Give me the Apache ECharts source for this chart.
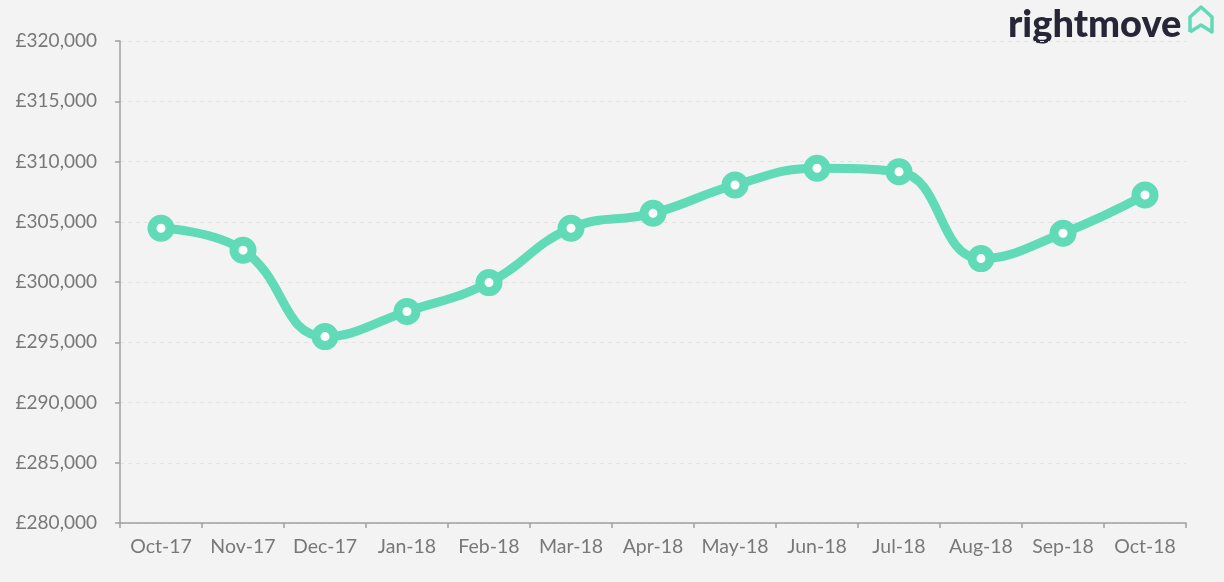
<!DOCTYPE html>
<html>
<head>
<meta charset="utf-8">
<script src="https://cdn.jsdelivr.net/npm/echarts@6/dist/echarts.min.js"></script>
<style>
html,body{margin:0;padding:0;background:#f3f3f3;}
#chart{width:1224px;height:582px;}
</style>
</head>
<body>
<div id="chart"></div>
<script>
var categories = ['Oct-17','Nov-17','Dec-17','Jan-18','Feb-18','Mar-18','Apr-18','May-18','Jun-18','Jul-18','Aug-18','Sep-18','Oct-18'];
var askingPrices = [304460, 302640, 295470, 297550, 299950, 304460, 305700, 308050, 309440, 309150, 301940, 304050, 307220];
var yMin = 280000, yMax = 320000, yStep = 5000;

var chart = echarts.init(document.getElementById('chart'));
chart.setOption({
  backgroundColor: '#f3f3f3',
  animation: false,
  grid: {left: 120, right: 38, top: 41, bottom: 59},
  xAxis: {
    type: 'category',
    data: categories,
    boundaryGap: true,
    axisLine: {lineStyle: {color: '#a0a0a0', width: 1.5}},
    axisTick: {show: true, interval: 0, length: 5, lineStyle: {color: '#a0a0a0', width: 1.5}},
    axisLabel: {interval: 0, color: '#787878', fontFamily: 'Lato', fontSize: 19.5, margin: 14}
  },
  yAxis: {
    type: 'value',
    min: yMin, max: yMax, interval: yStep,
    axisLine: {show: true, lineStyle: {color: '#a0a0a0', width: 1.5}},
    axisTick: {show: true, length: 5, lineStyle: {color: '#a0a0a0', width: 1.5}},
    axisLabel: {
      color: '#787878', fontFamily: 'Lato', fontSize: 19, margin: 23,
      formatter: function (v) { return '£' + v.toLocaleString('en-GB'); }
    },
    splitLine: {show: true, lineStyle: {color: '#e3e3e3', type: [4, 4], width: 1}}
  },
  series: [{
    type: 'line',
    data: askingPrices,
    smooth: 0.45,
    lineStyle: {color: '#61dbb7', width: 9},
    symbol: 'circle',
    symbolSize: 18,
    itemStyle: {color: '#ffffff', borderColor: '#61dbb7', borderWidth: 9}
  }],
  graphic: [
    {type: 'text', left: 1008, top: 6, style: {text: 'rightmove', fontFamily: 'Lato', fontWeight: 900, fontSize: 38, fill: '#262637'}},
    {type: 'polyline', shape: {points: [[1190,32],[1190,17],[1201,7],[1212,17],[1212,32],[1201,25],[1190,32]]}, style: {stroke: '#61dbb7', lineWidth: 3.5, fill: 'none', lineJoin: 'round'}}
  ]
});
</script>
</body>
</html>
